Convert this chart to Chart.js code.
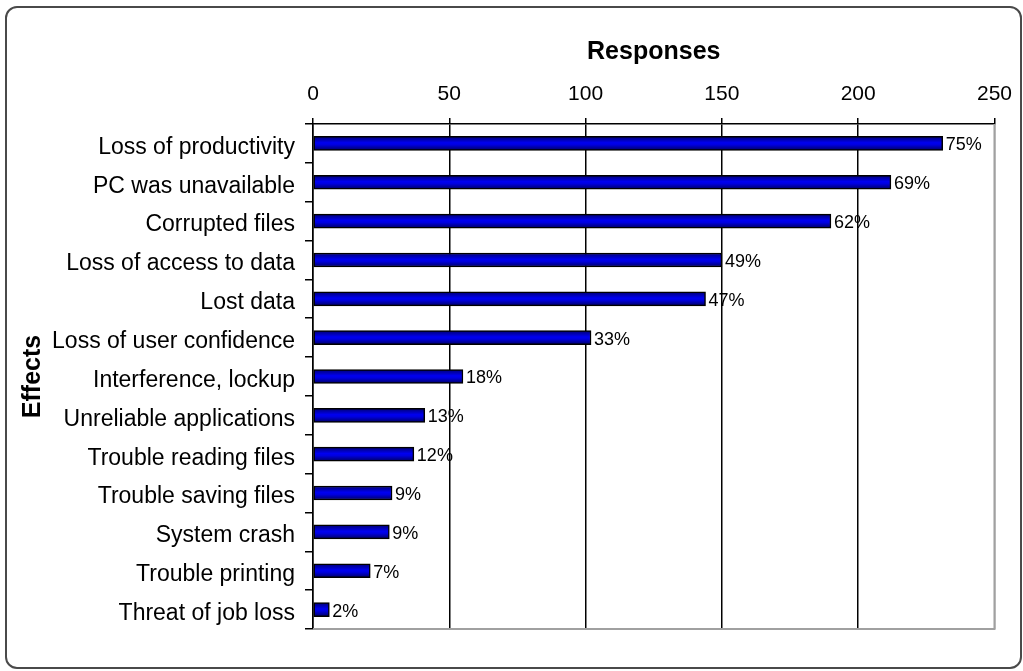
<!DOCTYPE html>
<html>
<head>
<meta charset="utf-8">
<title>Effects - Responses</title>
<script src="https://cdn.jsdelivr.net/npm/chart.js@4.4.1/dist/chart.umd.min.js"></script>
<style>
    html, body { margin: 0; padding: 0; background: #fff; }
    .wrap { position: absolute; left: 0; top: 0; width: 1023px; height: 671px; }
    .frame {
        position: absolute; left: 5px; top: 6px; width: 1013px; height: 659px;
        border: 2px solid #4a4a4a; border-radius: 12px; pointer-events: none;
    }
</style>
</head>
<body>
<div class="wrap">
    <canvas id="myCanvas"></canvas>
    <div class="frame"></div>
</div>
<script>
'use strict';

// data
var effects = [
    'Loss of productivity',
    'PC was unavailable',
    'Corrupted files',
    'Loss of access to data',
    'Lost data',
    'Loss of user confidence',
    'Interference, lockup',
    'Unreliable applications',
    'Trouble reading files',
    'Trouble saving files',
    'System crash',
    'Trouble printing',
    'Threat of job loss'
];
var responses = [231, 212, 190, 150, 144, 102, 55, 41, 37, 29, 28, 21, 6];
var percents = ['75%', '69%', '62%', '49%', '47%', '33%', '18%', '13%', '12%', '9%', '9%', '7%', '2%'];
var responseTicks = [0, 50, 100, 150, 200, 250];

var fontName = '"Liberation Sans", Arial, sans-serif';

// percent labels at the end of each bar
var pctLabels = {
    id: 'pctLabels',
    afterDatasetsDraw: function (chart) {
        var ctx = chart.ctx,
            meta = chart.getDatasetMeta(0);
        ctx.save();
        ctx.font = '18px ' + fontName;
        ctx.fillStyle = '#000';
        ctx.textAlign = 'left';
        ctx.textBaseline = 'middle';
        meta.data.forEach(function (bar, i) {
            ctx.fillText(percents[i], bar.x + 3, bar.y + 2);
        });
        ctx.restore();
    }
};

// grey right and bottom edge of the plot
var plotEdge = {
    id: 'plotEdge',
    beforeDatasetsDraw: function (chart) {
        var ctx = chart.ctx,
            a = chart.chartArea;
        ctx.save();
        ctx.strokeStyle = '#a0a0a0';
        ctx.lineWidth = 2;
        ctx.beginPath();
        ctx.moveTo(a.left, a.bottom);
        ctx.lineTo(a.right, a.bottom);
        ctx.lineTo(a.right, a.top);
        ctx.stroke();
        ctx.restore();
    }
};

// bar fill: dark edges, bright middle
function barFill(c) {
    var chart = c.chart,
        yScale = chart.scales.y;
    if (!yScale || c.type !== 'data') {
        return '#0000cc';
    }
    var yc = yScale.getPixelForValue(c.dataIndex);
    if (!isFinite(yc)) {
        return '#0000cc';
    }
    var g = chart.ctx.createLinearGradient(0, yc - 7, 0, yc + 7);
    g.addColorStop(0, '#000070');
    g.addColorStop(0.45, '#0000f0');
    g.addColorStop(0.6, '#0000e0');
    g.addColorStop(1, '#000060');
    return g;
}

var ctx = document.getElementById('myCanvas').getContext('2d');
var myBarChart = new Chart(ctx, {
    type: 'bar',
    data: {
        labels: effects,
        datasets: [
            {
                label: 'Responses',
                data: responses,
                backgroundColor: barFill,
                borderColor: '#000',
                borderWidth: 1.5,
                borderSkipped: false,
                barThickness: 14
            }
        ]
    },
    options: {
        indexAxis: 'y',
        responsive: true,
        maintainAspectRatio: false,
        animation: false,
        layout: {
            padding: { left: 0, top: 0, right: 26, bottom: 42 }
        },
        plugins: {
            legend: { display: false },
            tooltip: { enabled: false }
        },
        scales: {
            x: {
                type: 'linear',
                position: 'top',
                min: responseTicks[0],
                max: responseTicks[responseTicks.length - 1],
                afterFit: function (scale) { scale.height = 124; },
                ticks: {
                    stepSize: responseTicks[1] - responseTicks[0],
                    color: '#000',
                    padding: 11,
                    font: { family: fontName, size: 21 }
                },
                grid: {
                    color: function (c) {
                        return c.tick && c.tick.value === 250 ? '#a0a0a0' : '#000';
                    },
                    tickColor: '#000',
                    lineWidth: 1.5,
                    tickLength: 6
                },
                border: { display: true, color: '#000', width: 1.5 },
                title: {
                    display: true,
                    text: 'Responses',
                    color: '#000',
                    padding: { top: 37, bottom: 0 },
                    font: { family: fontName, size: 25, weight: 'bold' }
                }
            },
            y: {
                type: 'category',
                offset: true,
                afterFit: function (scale) { scale.width = 313; },
                ticks: {
                    color: '#000',
                    padding: 10,
                    labelOffset: 4,
                    autoSkip: false,
                    font: { family: fontName, size: 23 }
                },
                grid: {
                    offset: true,
                    drawOnChartArea: false,
                    color: '#000',
                    lineWidth: 1.5,
                    tickLength: 8
                },
                border: { display: true, color: '#000', width: 1.5 },
                title: {
                    display: true,
                    text: 'Effects',
                    color: '#000',
                    padding: { top: 18, bottom: 0 },
                    font: { family: fontName, size: 25, weight: 'bold' }
                }
            }
        }
    },
    plugins: [plotEdge, pctLabels]
});
</script>
</body>
</html>
